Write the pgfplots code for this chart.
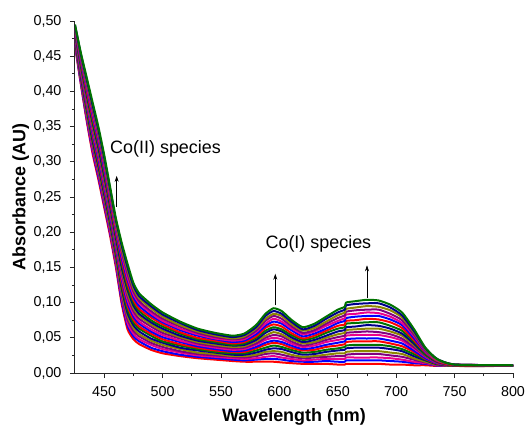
\documentclass[border=0pt]{standalone}
\usepackage{fontspec}
\setmainfont{Liberation Sans}
\usepackage{pgfplots}
\usepackage{pgfplotstable}
\pgfplotsset{compat=1.18}
\usetikzlibrary{arrows.meta}

% absorbance spectra, one column per recorded spectrum (lowest to highest)
\pgfplotstableread{
wl  s1 s2 s3 s4 s5 s6 s7 s8 s9 s10 s11 s12 s13 s14 s15 s16 s17 s18 s19 s20 s21
425 0.465 0.467 0.468 0.470 0.471 0.473 0.474 0.476 0.477 0.479 0.480 0.482 0.483 0.485 0.486 0.488 0.489 0.491 0.492 0.494 0.495
430 0.410 0.412 0.415 0.417 0.419 0.421 0.424 0.426 0.428 0.430 0.433 0.435 0.437 0.439 0.442 0.444 0.446 0.448 0.451 0.453 0.455
435 0.358 0.361 0.364 0.367 0.370 0.374 0.377 0.380 0.383 0.386 0.389 0.392 0.395 0.398 0.401 0.405 0.408 0.411 0.414 0.417 0.420
440 0.312 0.316 0.319 0.323 0.327 0.330 0.334 0.338 0.341 0.345 0.349 0.352 0.356 0.359 0.363 0.367 0.370 0.374 0.378 0.381 0.385
445 0.275 0.279 0.283 0.286 0.290 0.294 0.298 0.301 0.305 0.309 0.313 0.316 0.320 0.324 0.328 0.331 0.335 0.339 0.343 0.346 0.350
450 0.235 0.239 0.243 0.246 0.250 0.254 0.258 0.261 0.265 0.269 0.273 0.276 0.280 0.284 0.288 0.291 0.295 0.299 0.303 0.306 0.310
455 0.195 0.199 0.202 0.206 0.209 0.213 0.216 0.220 0.223 0.227 0.230 0.234 0.237 0.241 0.244 0.248 0.251 0.255 0.258 0.262 0.265
460 0.150 0.154 0.157 0.161 0.164 0.168 0.171 0.175 0.178 0.182 0.185 0.189 0.192 0.196 0.199 0.203 0.206 0.210 0.213 0.217 0.220
465 0.098 0.102 0.107 0.111 0.115 0.120 0.124 0.128 0.133 0.137 0.142 0.146 0.150 0.155 0.159 0.163 0.168 0.172 0.176 0.181 0.185
470 0.062 0.067 0.071 0.076 0.081 0.085 0.090 0.095 0.099 0.104 0.109 0.113 0.118 0.122 0.127 0.132 0.136 0.141 0.146 0.150 0.155
475 0.048 0.052 0.056 0.060 0.064 0.068 0.072 0.076 0.080 0.084 0.088 0.092 0.096 0.100 0.104 0.108 0.112 0.116 0.120 0.124 0.128
480 0.041 0.045 0.048 0.052 0.055 0.059 0.063 0.066 0.070 0.073 0.077 0.081 0.084 0.088 0.091 0.095 0.099 0.102 0.106 0.109 0.113
490 0.033 0.036 0.040 0.043 0.046 0.049 0.053 0.056 0.059 0.062 0.066 0.069 0.072 0.075 0.079 0.082 0.085 0.088 0.092 0.095 0.098
500 0.028 0.031 0.034 0.037 0.040 0.043 0.045 0.048 0.051 0.054 0.057 0.060 0.063 0.066 0.069 0.072 0.074 0.077 0.080 0.083 0.086
515 0.024 0.026 0.029 0.031 0.034 0.036 0.039 0.041 0.044 0.046 0.049 0.051 0.053 0.056 0.058 0.061 0.063 0.066 0.068 0.071 0.073
530 0.021 0.023 0.025 0.027 0.029 0.032 0.034 0.036 0.038 0.040 0.042 0.044 0.046 0.048 0.050 0.053 0.055 0.057 0.059 0.061 0.063
545 0.019 0.021 0.023 0.025 0.027 0.029 0.030 0.032 0.034 0.036 0.038 0.040 0.042 0.044 0.046 0.048 0.049 0.051 0.053 0.055 0.057
560 0.017 0.019 0.021 0.023 0.024 0.026 0.028 0.030 0.031 0.033 0.035 0.037 0.039 0.040 0.042 0.044 0.046 0.048 0.049 0.051 0.053
570 0.016 0.018 0.020 0.022 0.024 0.026 0.028 0.030 0.032 0.034 0.036 0.038 0.040 0.042 0.044 0.046 0.048 0.050 0.052 0.054 0.056
580 0.016 0.019 0.021 0.024 0.026 0.029 0.032 0.035 0.037 0.040 0.042 0.045 0.047 0.050 0.052 0.055 0.058 0.060 0.063 0.065 0.068
588 0.016 0.020 0.023 0.027 0.030 0.033 0.036 0.040 0.043 0.047 0.050 0.053 0.057 0.060 0.064 0.067 0.070 0.074 0.077 0.081 0.084
595 0.016 0.020 0.024 0.028 0.031 0.035 0.039 0.043 0.046 0.050 0.054 0.058 0.062 0.065 0.069 0.073 0.077 0.081 0.084 0.088 0.092
602 0.015 0.019 0.022 0.026 0.030 0.034 0.037 0.041 0.044 0.048 0.052 0.055 0.059 0.062 0.066 0.070 0.073 0.077 0.081 0.084 0.088
610 0.014 0.017 0.020 0.023 0.026 0.030 0.033 0.036 0.039 0.042 0.045 0.048 0.051 0.054 0.057 0.061 0.064 0.067 0.070 0.073 0.076
620 0.013 0.016 0.018 0.021 0.023 0.026 0.029 0.032 0.034 0.037 0.039 0.042 0.044 0.047 0.049 0.052 0.055 0.057 0.060 0.062 0.065
630 0.013 0.016 0.019 0.022 0.024 0.027 0.030 0.033 0.036 0.039 0.042 0.044 0.047 0.050 0.053 0.056 0.059 0.061 0.064 0.067 0.070
640 0.013 0.017 0.020 0.023 0.026 0.030 0.033 0.037 0.040 0.044 0.047 0.050 0.053 0.057 0.060 0.063 0.067 0.070 0.073 0.077 0.080
650 0.012 0.016 0.020 0.024 0.028 0.032 0.035 0.039 0.043 0.047 0.051 0.055 0.059 0.063 0.067 0.071 0.074 0.078 0.082 0.086 0.090
656 0.012 0.016 0.020 0.024 0.028 0.033 0.037 0.041 0.045 0.049 0.053 0.057 0.061 0.065 0.069 0.074 0.078 0.082 0.086 0.090 0.094
657 0.013 0.018 0.022 0.026 0.030 0.035 0.039 0.044 0.048 0.053 0.057 0.061 0.065 0.070 0.074 0.078 0.083 0.087 0.091 0.096 0.100
665 0.013 0.018 0.022 0.027 0.031 0.036 0.040 0.045 0.049 0.054 0.058 0.062 0.066 0.071 0.075 0.080 0.084 0.089 0.093 0.098 0.102
675 0.013 0.018 0.022 0.027 0.031 0.036 0.040 0.045 0.049 0.054 0.059 0.063 0.068 0.072 0.077 0.081 0.086 0.090 0.095 0.099 0.104
685 0.013 0.018 0.022 0.027 0.031 0.036 0.040 0.045 0.049 0.054 0.058 0.063 0.067 0.072 0.076 0.081 0.085 0.090 0.094 0.099 0.103
695 0.012 0.017 0.021 0.025 0.029 0.034 0.038 0.042 0.046 0.051 0.055 0.059 0.063 0.067 0.072 0.076 0.080 0.084 0.089 0.093 0.097
705 0.012 0.016 0.019 0.023 0.027 0.031 0.034 0.038 0.042 0.046 0.049 0.053 0.056 0.060 0.064 0.068 0.071 0.075 0.079 0.082 0.086
715 0.011 0.014 0.016 0.019 0.021 0.024 0.027 0.030 0.032 0.035 0.037 0.040 0.042 0.045 0.047 0.050 0.053 0.055 0.058 0.060 0.063
725 0.011 0.013 0.014 0.015 0.016 0.018 0.019 0.020 0.021 0.023 0.024 0.025 0.026 0.027 0.029 0.030 0.031 0.032 0.034 0.035 0.036
735 0.010 0.0105 0.011 0.0115 0.012 0.0125 0.013 0.0135 0.014 0.0145 0.015 0.016 0.016 0.017 0.017 0.018 0.018 0.019 0.019 0.020 0.020
750 0.010 0.010 0.010 0.010 0.010 0.0105 0.011 0.011 0.011 0.011 0.011 0.011 0.011 0.011 0.011 0.012 0.012 0.012 0.012 0.012 0.012
800 0.010 0.010 0.010 0.010 0.010 0.010 0.010 0.010 0.010 0.010 0.010 0.011 0.011 0.011 0.011 0.011 0.011 0.011 0.011 0.011 0.011
}\spectra

\begin{document}
\begin{tikzpicture}
\path[use as bounding box] (-75bp,-57bp) rectangle (450bp,373bp);
\begin{axis}[
    scale only axis,
    width=438bp, height=352bp,
    xmin=425, xmax=800, ymin=0, ymax=0.5,
    axis lines=left,
    axis line style={-, line width=1bp, black!85},
    tick style={line width=0.8bp, black!85},
    tick align=outside,
    major tick length=5bp, minor tick length=3bp,
    xtick={450,500,550,600,650,700,750,800},
    ytick={0,0.05,0.1,0.15,0.2,0.25,0.3,0.35,0.4,0.45,0.5},
    minor x tick num=1, minor y tick num=1,
    /pgf/number format/assume math mode=true,
    yticklabel style={xshift=-5bp, /pgf/number format/.cd, fixed, fixed zerofill, precision=2, use comma},
    xticklabel style={yshift=-5bp, /pgf/number format/.cd, fixed, set thousands separator={}},
    tick label style={font=\fontsize{14.4}{16}\selectfont},
    label style={font=\fontsize{18}{20}\selectfont\bfseries},
    xlabel={Wavelength (nm)},
    ylabel={Absorbance (AU)},
    xlabel style={at={(axis description cs:0.5,0)}, anchor=center, yshift=-44bp},
    ylabel style={at={(axis description cs:-0.124,0.5)}, anchor=center},
    cycle list={{red},{blue},{magenta},{violet},{olive},{blue!55!black},{green!45!black}},
    every axis plot post/.append style={line width=2bp, mark=none, line join=round, smooth, tension=0.35},
]
\pgfplotsinvokeforeach{1,...,21}{
    \addplot table[x index=0, y index=#1] {\spectra};
}
\draw[-{Stealth[length=6bp,width=4bp]}, line width=0.6bp] (axis cs:460.7,0.236) -- (axis cs:460.7,0.280);
\draw[-{Stealth[length=6bp,width=4bp]}, line width=0.6bp] (axis cs:596.5,0.096) -- (axis cs:596.5,0.141);
\draw[-{Stealth[length=6bp,width=4bp]}, line width=0.6bp] (axis cs:675,0.107) -- (axis cs:675,0.153);
\node[anchor=west, inner sep=0pt, font=\fontsize{18}{20}\selectfont] at (axis cs:455,0.319) {Co(II) species};
\node[anchor=west, inner sep=0pt, font=\fontsize{18}{20}\selectfont] at (axis cs:588,0.183) {Co(I) species};
\end{axis}
\end{tikzpicture}
\end{document}
